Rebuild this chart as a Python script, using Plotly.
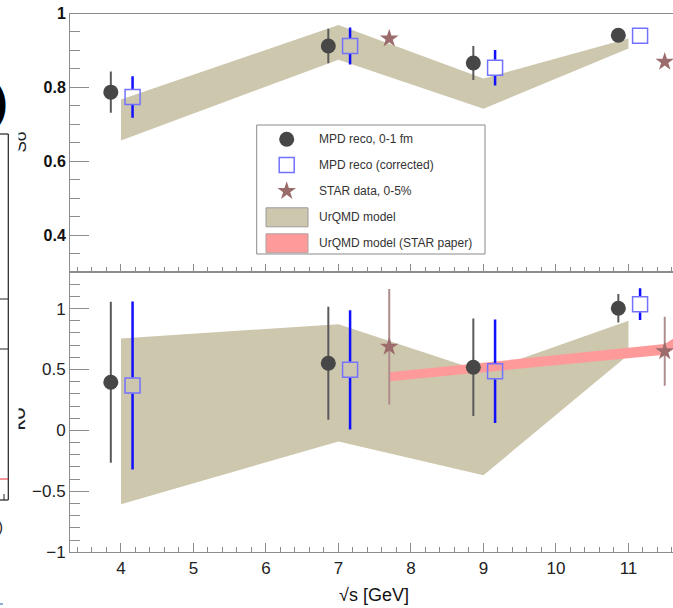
import plotly.graph_objects as go

W, H = 673, 608
FONT = "Liberation Sans, Arial, Helvetica, sans-serif"

# ---------------- data ----------------
energies = [4, 7, 9, 11]
star_energies = [7.7, 11.5]
model_star_energies = [7.7, 11.5, 14.5]

# upper panel (S sigma)
mpd_top = [0.787, 0.912, 0.866, 0.941]
mpd_top_err = [0.056, 0.047, 0.046, 0.010]
corr_top = [0.774, 0.912, 0.853, 0.940]
corr_top_err = [0.056, 0.050, 0.048, 0.010]
star_top = [0.932, 0.869]
star_top_err = [0.008, 0.008]
urqmd_top_lo = [0.656, 0.875, 0.742, 0.905]
urqmd_top_hi = [0.767, 0.969, 0.824, 0.932]

# lower panel (kappa sigma^2)
mpd_bot = [0.395, 0.551, 0.518, 1.003]
mpd_bot_err = [0.660, 0.463, 0.400, 0.117]
corr_bot = [0.368, 0.497, 0.485, 1.036]
corr_bot_err = [0.689, 0.490, 0.425, 0.130]
star_bot = [0.687, 0.649]
star_bot_err = [0.474, 0.283]
urqmd_bot_lo = [-0.606, -0.090, -0.367, 0.620]
urqmd_bot_hi = [0.755, 0.872, 0.480, 0.900]
star_model_mid = [0.440, 0.665, 1.800]
star_model_half = [0.037, 0.044, 0.050]

legend_labels = ["MPD reco, 0-1 fm", "MPD reco (corrected)", "STAR data, 0-5%",
                 "UrQMD model", "UrQMD model (STAR paper)"]
x_ticks = [4, 5, 6, 7, 8, 9, 10, 11]
top_ticks = [0.4, 0.6, 0.8, 1.0]
top_ticktext = ["0.4", "0.6", "0.8", "1"]
bot_ticks = [-1, -0.5, 0, 0.5, 1]
bot_ticktext = ["\u22121", "\u22120.5", "0", "0.5", "1"]

# ---------------- style ----------------
x_range = [3.297, 11.614]
top_range = [0.30, 1.00]
bot_range = [-1.00, 1.30]
x_dom = [70 / W, 1.0]
top_dom = [1 - 272 / H, 1 - 13.5 / H]
bot_dom = [1 - 552.3 / H, 1 - 272 / H]
mpd_shift, corr_shift = -0.14, 0.16

TAN = "#cdc7ae"
PINK = "#ff9a9a"
MPD_COL = "#474747"
MPD_ERR = "#5a5a5a"
CORR_COL = "#7272ff"
CORR_ERR = "#1010ff"
STAR_COL = "#9c6b6b"
STAR_ERR = "#b08d8d"
AX = "#8c8c8c"
MSIZE = 15

fig = go.Figure()


def band(xs, lo, hi, color, xa, ya):
    fig.add_trace(go.Scatter(
        x=list(xs) + list(xs)[::-1], y=list(hi) + list(lo)[::-1],
        fill="toself", fillcolor=color, line=dict(width=0), mode="lines",
        hoverinfo="skip", showlegend=False, xaxis=xa, yaxis=ya))


def split_errors(xs, ys, errs, gap):
    ex, ey = [], []
    for x, y, e in zip(xs, ys, errs):
        if e > gap:
            ex += [x, x, None, x, x, None]
            ey += [y + gap, y + e, None, y - gap, y - e, None]
    return ex, ey


def panel(xa, ya, dom, rng, mpd, mpd_e, corr, corr_e, star, star_e, lo, hi, pink=None):
    band(energies, lo, hi, TAN, xa, ya)
    if pink is not None:
        mid, half = pink
        band(model_star_energies, [m - h for m, h in zip(mid, half)],
             [m + h for m, h in zip(mid, half)], PINK, xa, ya)
    # STAR
    fig.add_trace(go.Scatter(
        x=star_energies, y=star, mode="markers",
        marker=dict(symbol="star", size=14, color=STAR_COL, line=dict(width=0)),
        error_y=dict(type="data", array=star_e, color=STAR_ERR, thickness=2, width=0),
        showlegend=False, xaxis=xa, yaxis=ya))
    # MPD reco
    fig.add_trace(go.Scatter(
        x=[e + mpd_shift for e in energies], y=mpd, mode="markers",
        marker=dict(symbol="circle", size=MSIZE, color=MPD_COL, line=dict(width=0)),
        error_y=dict(type="data", array=mpd_e, color=MPD_ERR, thickness=2, width=0),
        showlegend=False, xaxis=xa, yaxis=ya))
    # corrected: error bars stop at the open square
    px_per_unit = (dom[1] - dom[0]) * H / (rng[1] - rng[0])
    gap = (MSIZE / 2 + 0.5) / px_per_unit
    cx = [e + corr_shift for e in energies]
    ex, ey = split_errors(cx, corr, corr_e, gap)
    fig.add_trace(go.Scatter(x=ex, y=ey, mode="lines",
                             line=dict(color=CORR_ERR, width=2.5),
                             showlegend=False, hoverinfo="skip", xaxis=xa, yaxis=ya))
    fig.add_trace(go.Scatter(
        x=cx, y=corr, mode="markers",
        marker=dict(symbol="square-open", size=MSIZE, color=CORR_COL, line=dict(width=1.5)),
        showlegend=False, xaxis=xa, yaxis=ya))


panel("x", "y", top_dom, top_range, mpd_top, mpd_top_err, corr_top, corr_top_err,
      star_top, star_top_err, urqmd_top_lo, urqmd_top_hi)
panel("x2", "y2", bot_dom, bot_range, mpd_bot, mpd_bot_err, corr_bot, corr_bot_err,
      star_bot, star_bot_err, urqmd_bot_lo, urqmd_bot_hi,
      pink=(star_model_mid, star_model_half))

# ---------------- legend (drawn in pixel overlay) ----------------
leg_x_sym, leg_x_txt = 286.7, 316.7
leg_y = [139.3, 165.0, 191.0, 217.3, 243.3]
fig.add_trace(go.Scatter(x=[leg_x_sym], y=[leg_y[0]], mode="markers",
                         marker=dict(symbol="circle", size=MSIZE, color=MPD_COL),
                         showlegend=False, hoverinfo="skip", xaxis="x3", yaxis="y3"))
fig.add_trace(go.Scatter(x=[leg_x_sym], y=[leg_y[1]], mode="markers",
                         marker=dict(symbol="square-open", size=MSIZE, color=CORR_COL,
                                     line=dict(width=1.5)),
                         showlegend=False, hoverinfo="skip", xaxis="x3", yaxis="y3"))
fig.add_trace(go.Scatter(x=[leg_x_sym], y=[leg_y[2]], mode="markers",
                         marker=dict(symbol="star", size=14, color=STAR_COL),
                         showlegend=False, hoverinfo="skip", xaxis="x3", yaxis="y3"))

shapes = [
    dict(type="rect", xref="x3", yref="y3", x0=256.7, x1=485, y0=125, y1=254,
         line=dict(color="#8a8a8a", width=1), fillcolor="rgba(0,0,0,0)"),
    dict(type="rect", xref="x3", yref="y3", x0=266, x1=308, y0=leg_y[3] - 9.5, y1=leg_y[3] + 9.5,
         line=dict(color="#9a9a9a", width=1), fillcolor=TAN),
    dict(type="rect", xref="x3", yref="y3", x0=266, x1=308, y0=leg_y[4] - 9.5, y1=leg_y[4] + 9.5,
         line=dict(color="#b0a0a0", width=1), fillcolor=PINK),
    # fragments of the neighbouring panel on the left
    dict(type="line", xref="x3", yref="y3", x0=8.3, x1=8.3, y0=134, y1=500,
         line=dict(color="#222", width=1.2)),
    dict(type="line", xref="x3", yref="y3", x0=0, x1=8.3, y0=134, y1=134,
         line=dict(color="#222", width=1.2)),
    dict(type="line", xref="x3", yref="y3", x0=0, x1=8.3, y0=299, y1=299,
         line=dict(color="#222", width=1)),
    dict(type="line", xref="x3", yref="y3", x0=0, x1=8.3, y0=349, y1=349,
         line=dict(color="#222", width=1)),
    dict(type="line", xref="x3", yref="y3", x0=0, x1=8.3, y0=479, y1=479,
         line=dict(color="#e03030", width=1)),
    dict(type="line", xref="x3", yref="y3", x0=0, x1=8.3, y0=500, y1=500,
         line=dict(color="#222", width=1.2)),
    dict(type="line", xref="x3", yref="y3", x0=4, x1=4, y0=494, y1=500,
         line=dict(color="#222", width=1)),
    dict(type="line", xref="x3", yref="y3", x0=0, x1=3, y0=604, y1=604,
         line=dict(color="#6a8fd0", width=1.5)),
]

annotations = []
for lab, yy in zip(legend_labels, leg_y):
    annotations.append(dict(xref="x3", yref="y3", x=leg_x_txt, y=yy, text=lab,
                            showarrow=False, xanchor="left", yanchor="middle",
                            font=dict(family=FONT, size=12, color="#333")))
annotations += [
    dict(xref="x3", yref="y3", x=337, y=595, text="\u221as [GeV]", showarrow=False,
         xanchor="left", yanchor="middle", font=dict(family=FONT, size=18, color="#111")),
    dict(xref="x3", yref="y3", x=9.5, y=101, text="<b>)</b>", showarrow=False,
         xanchor="right", yanchor="middle", font=dict(family=FONT, size=44, color="#000")),
    dict(xref="x3", yref="y3", x=5, y=526, text=")", showarrow=False,
         xanchor="right", yanchor="middle", font=dict(family=FONT, size=15, color="#222")),
    # cut-off y-axis titles
    dict(xref="x3", yref="y3", x=23.5, y=142, text="S\u03c3", showarrow=False,
         textangle=-90, height=11, valign="bottom",
         font=dict(family=FONT, size=17, color="#222")),
    dict(xref="x3", yref="y3", x=23.5, y=414, text="\u03ba\u03c3<sup>2</sup>", showarrow=False,
         textangle=-90, height=11, valign="bottom",
         font=dict(family=FONT, size=22, color="#222")),
]

common_x = dict(range=x_range, domain=x_dom, showline=True, linecolor=AX, linewidth=1,
                mirror=True, ticks="inside", tickcolor=AX, tickmode="array", tickvals=x_ticks,
                showgrid=False, zeroline=False, automargin=False,
                minor=dict(ticks="inside", ticklen=5, tick0=0, dtick=0.2, tickcolor=AX,
                           showgrid=False))
common_y = dict(showline=True, linecolor=AX, linewidth=1, mirror=False, ticks="inside",
                tickcolor=AX, ticklen=19, tickmode="array", showgrid=False, zeroline=False,
                automargin=False,
                minor=dict(ticks="inside", ticklen=10, tick0=0, tickcolor=AX, showgrid=False))

fig.update_layout(
    width=W, height=H, margin=dict(l=0, r=0, t=0, b=0),
    paper_bgcolor="white", plot_bgcolor="rgba(0,0,0,0)", showlegend=False,
    font=dict(family=FONT),
    xaxis=dict(common_x, anchor="y", ticklen=8, showticklabels=False),
    xaxis2=dict(common_x, anchor="y2", matches="x", ticklen=9, showticklabels=True,
                tickfont=dict(family=FONT, size=17, color="#222")),
    yaxis=dict(common_y, anchor="x", domain=top_dom, range=top_range, tickvals=top_ticks,
               ticktext=top_ticktext,
               minor=dict(common_y["minor"], dtick=0.05),
               tickfont=dict(family=FONT, size=16, color="#111", weight="bold")),
    yaxis2=dict(common_y, anchor="x2", domain=bot_dom, range=bot_range, tickvals=bot_ticks,
                ticktext=bot_ticktext,
                minor=dict(common_y["minor"], dtick=0.1),
                tickfont=dict(family=FONT, size=17, color="#222")),
    xaxis3=dict(domain=[0, 1], range=[0, W], visible=False, anchor="y3", fixedrange=True),
    yaxis3=dict(domain=[0, 1], range=[H, 0], visible=False, anchor="x3", fixedrange=True),
    shapes=shapes, annotations=annotations,
)

fig.write_html("out.html", config={"displayModeBar": False},
               post_script="document.body.style.margin='0';document.body.style.overflow='hidden';")
